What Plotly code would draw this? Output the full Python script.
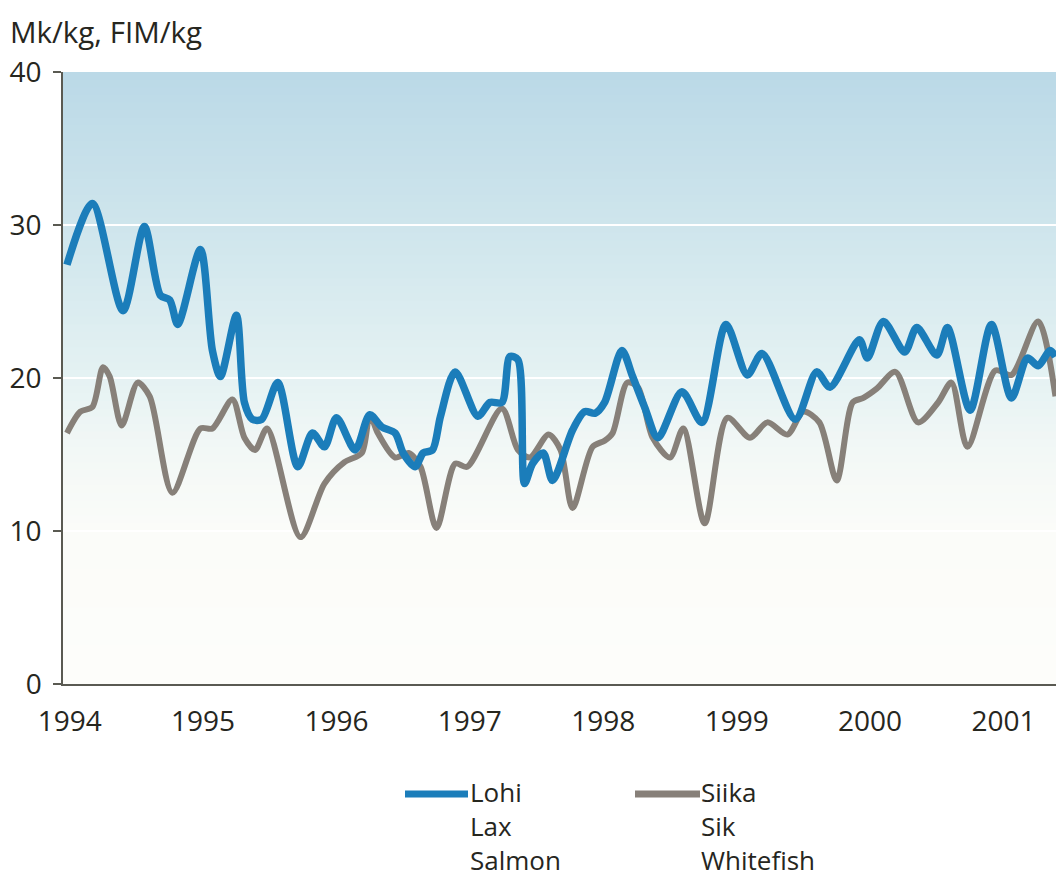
import plotly.graph_objects as go

# ---- data (decimal years, Mk/kg) ----
lohi_t = [1994.00, 1994.19, 1994.42, 1994.58, 1994.70, 1994.77, 1994.83, 1995.00, 1995.09, 1995.15,
          1995.27, 1995.33, 1995.39, 1995.46, 1995.58, 1995.73, 1995.84, 1995.93, 1996.02, 1996.16,
          1996.27, 1996.36, 1996.46, 1996.52, 1996.61, 1996.67, 1996.74, 1996.80, 1996.91, 1997.08,
          1997.17, 1997.26, 1997.32, 1997.38, 1997.43, 1997.49, 1997.57, 1997.64, 1997.79, 1997.88,
          1997.96, 1998.03, 1998.16, 1998.24, 1998.33, 1998.43, 1998.61, 1998.76, 1998.94, 1999.10,
          1999.21, 1999.46, 1999.62, 1999.72, 1999.94, 2000.00, 2000.12, 2000.28, 2000.37, 2000.52,
          2000.60, 2000.77, 2000.93, 2001.08, 2001.20, 2001.28, 2001.37, 2001.41]
lohi_v = [27.4, 31.4, 24.4, 29.9, 25.4, 25.1, 23.5, 28.4, 21.8, 20.1,
          24.1, 18.4, 17.3, 17.3, 19.7, 14.2, 16.4, 15.5, 17.4, 15.3,
          17.6, 16.8, 16.4, 15.1, 14.2, 15.1, 15.3, 17.5, 20.4, 17.5,
          18.4, 18.4, 21.4, 21.2, 13.1, 14.4, 15.1, 13.3, 16.6, 17.8,
          17.7, 18.4, 21.8, 20.1, 18.1, 16.1, 19.1, 17.1, 23.5, 20.2,
          21.6, 17.3, 20.4, 19.4, 22.5, 21.3, 23.7, 21.7, 23.3, 21.5,
          23.3, 17.9, 23.5, 18.7, 21.3, 20.8, 21.8, 21.4]

siika_t = [1994.00, 1994.10, 1994.19, 1994.27, 1994.32, 1994.41, 1994.53, 1994.62, 1994.79, 1995.00,
           1995.09, 1995.24, 1995.33, 1995.41, 1995.50, 1995.75, 1995.93, 1996.08, 1996.21, 1996.27,
           1996.33, 1996.46, 1996.56, 1996.65, 1996.77, 1996.91, 1997.00, 1997.26, 1997.38, 1997.47,
           1997.61, 1997.70, 1997.79, 1997.94, 1998.03, 1998.09, 1998.20, 1998.28, 1998.39, 1998.52,
           1998.62, 1998.78, 1998.95, 1999.12, 1999.25, 1999.40, 1999.52, 1999.64, 1999.77, 1999.89,
           1999.97, 2000.07, 2000.21, 2000.38, 2000.53, 2000.63, 2000.75, 2000.96, 2001.08, 2001.28,
           2001.41]
siika_v = [16.4, 17.8, 18.1, 20.7, 20.1, 16.9, 19.7, 18.8, 12.5, 16.7,
           16.7, 18.6, 16.1, 15.3, 16.7, 9.6, 13.1, 14.5, 15.1, 17.6,
           16.4, 14.8, 15.1, 14.2, 10.2, 14.4, 14.2, 18.0, 15.3, 14.8,
           16.3, 15.3, 11.5, 15.5, 15.9, 16.4, 19.7, 19.4, 16.1, 14.8,
           16.7, 10.5, 17.4, 16.1, 17.1, 16.3, 17.8, 17.1, 13.3, 18.4,
           18.7, 19.3, 20.4, 17.1, 18.4, 19.7, 15.5, 20.5, 20.2, 23.7,
           18.8]

years = [1994, 1995, 1996, 1997, 1998, 1999, 2000, 2001]
year_labels = [str(y) for y in years]
y_ticks = [0, 10, 20, 30, 40]

names_lohi = "Lohi<br>Lax<br>Salmon"
names_siika = "Siika<br>Sik<br>Whitefish"
unit_title = "Mk/kg, FIM/kg"

BLUE = "#1b7dba"
GRAY = "#878079"
TEXT = "#26261e"
FONT = "Open Sans"

W, H = 1056, 880
L, R, T, B = 63, 0, 72, 196
PW, PH = W - L - R, H - T - B


def px(xp):
    return (xp - L) / PW


def py(yp):
    return (H - B - yp) / PH


fig = go.Figure()
fig.add_trace(go.Scatter(x=siika_t, y=siika_v, mode="lines", name="Siika",
                         line=dict(color=GRAY, width=6, shape="spline", smoothing=0.8),
                         showlegend=False))
fig.add_trace(go.Scatter(x=lohi_t, y=lohi_v, mode="lines", name="Lohi",
                         line=dict(color=BLUE, width=7.5, shape="spline", smoothing=0.8),
                         showlegend=False))

# background gradient bands (style)
stops = [(0, (253, 253, 250)), (10, (251, 252, 249)), (15, (243, 248, 246)),
         (20, (229, 242, 243)), (30, (206, 229, 236)), (40, (187, 217, 231))]


def col(v):
    for (a, ca), (b, cb) in zip(stops[:-1], stops[1:]):
        if a <= v <= b:
            f = (v - a) / (b - a)
            return "rgb(%d,%d,%d)" % tuple(round(ca[i] + f * (cb[i] - ca[i])) for i in range(3))
    return "rgb(253,253,250)"


shapes = []
n = 80
for i in range(n):
    y0 = 40 * i / n
    y1 = 40 * (i + 1) / n
    shapes.append(dict(type="rect", xref="paper", yref="y", x0=0, x1=1, y0=y0,
                       y1=min(y1 + 0.4, 40),
                       fillcolor=col((y0 + y1) / 2), line=dict(width=0), layer="below"))
for g in [10, 20, 30]:
    shapes.append(dict(type="line", xref="paper", yref="y", x0=0, x1=1, y0=g, y1=g,
                       line=dict(color="white", width=2), layer="below"))

# manual legend
shapes.append(dict(type="line", xref="paper", yref="paper", x0=px(405), x1=px(468), y0=py(794), y1=py(794),
                   line=dict(color=BLUE, width=7)))
shapes.append(dict(type="line", xref="paper", yref="paper", x0=px(635), x1=px(700), y0=py(794), y1=py(794),
                   line=dict(color=GRAY, width=7)))

annotations = [
    dict(text=unit_title, xref="paper", yref="paper", x=px(8), y=py(31), xanchor="left", yanchor="middle",
         showarrow=False, font=dict(family=FONT, size=29.5, color=TEXT)),
    dict(text=names_lohi, xref="paper", yref="paper", x=px(469), y=py(773), xanchor="left", yanchor="top",
         align="left", showarrow=False, borderpad=0, font=dict(family=FONT, size=26, color=TEXT)),
    dict(text=names_siika, xref="paper", yref="paper", x=px(700), y=py(773), xanchor="left", yanchor="top",
         align="left", showarrow=False, borderpad=0, font=dict(family=FONT, size=26, color=TEXT)),
]

fig.update_layout(
    width=W, height=H,
    margin=dict(l=L, r=R, t=T, b=B),
    paper_bgcolor="white", plot_bgcolor="white",
    shapes=shapes, annotations=annotations,
    font=dict(family=FONT, color=TEXT),
    xaxis=dict(range=[1993.97, 2001.414], tickvals=[y + 0.02 for y in years], ticktext=year_labels,
               showgrid=False, zeroline=False, showline=True, linecolor="#5a5a52", linewidth=1.5,
               ticks="", ticklabelstandoff=12, tickfont=dict(family=FONT, size=28, color=TEXT)),
    yaxis=dict(range=[0, 40], tickvals=y_ticks, showgrid=False, zeroline=False, showline=True,
               linecolor="#5a5a52", linewidth=1.5, ticks="outside", ticklen=8, tickcolor="#5a5a52",
               tickwidth=1.5, ticklabelstandoff=6, tickfont=dict(family=FONT, size=28, color=TEXT)),
)

fig.write_html("out.html", config={"displayModeBar": False},
               post_script="document.body.style.margin='0';document.body.style.overflow='hidden';")
